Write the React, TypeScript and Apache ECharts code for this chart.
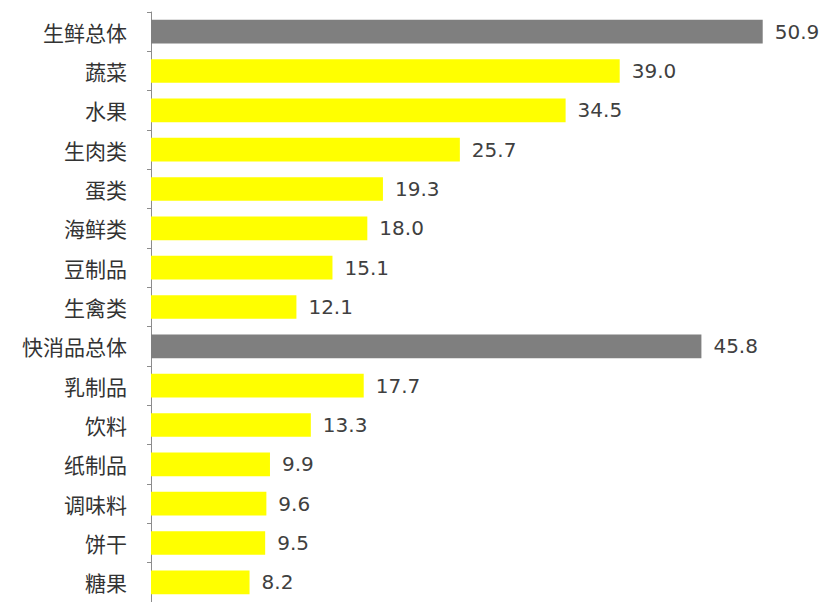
import React, { useEffect, useRef } from "react";
import * as echarts from "echarts";

const categories = ["生鲜总体", "蔬菜", "水果", "生肉类", "蛋类", "海鲜类", "豆制品", "生禽类", "快消品总体", "乳制品", "饮料", "纸制品", "调味料", "饼干", "糖果"];
const values = [50.9, 39.0, 34.5, 25.7, 19.3, 18.0, 15.1, 12.1, 45.8, 17.7, 13.3, 9.9, 9.6, 9.5, 8.2];
const totalCategories = ["生鲜总体", "快消品总体"];

export default function App() {
  const ref = useRef<HTMLDivElement>(null);
  useEffect(() => {
    if (!ref.current) return;
    const chart = echarts.init(ref.current, undefined, { renderer: "svg" });
    chart.setOption({
      animation: false,
      backgroundColor: "#ffffff",
      grid: { left: 151, right: 8, top: 12, bottom: -6, containLabel: false },
      xAxis: {
        type: "value",
        min: 0,
        max: 56,
        show: false,
      },
      yAxis: {
        type: "category",
        data: categories,
        inverse: true,
        axisLine: { show: true, lineStyle: { color: "#8c8c8c", width: 1 } },
        axisTick: { show: true, length: 4, lineStyle: { color: "#8c8c8c" } },
        axisLabel: {
          margin: 24,
          fontSize: 21,
          color: "#333333",
          fontFamily: "Noto Sans CJK SC",
        },
      },
      series: [
        {
          type: "bar",
          barCategoryGap: "40%",
          data: values.map((v, i) => ({
            value: v,
            itemStyle: { color: totalCategories.includes(categories[i]) ? "#7f7f7f" : "#ffff00" },
          })),
          label: {
            show: true,
            position: "right",
            distance: 12,
            formatter: (p: any) => Number(p.value).toFixed(1),
            fontSize: 20,
            color: "#404040",
            fontFamily: "DejaVu Sans",
          },
        },
      ],
    });
    return () => chart.dispose();
  }, []);
  return <div ref={ref} style={{ width: 832, height: 602, position: "absolute", left: 0, top: 0 }} />;
}
